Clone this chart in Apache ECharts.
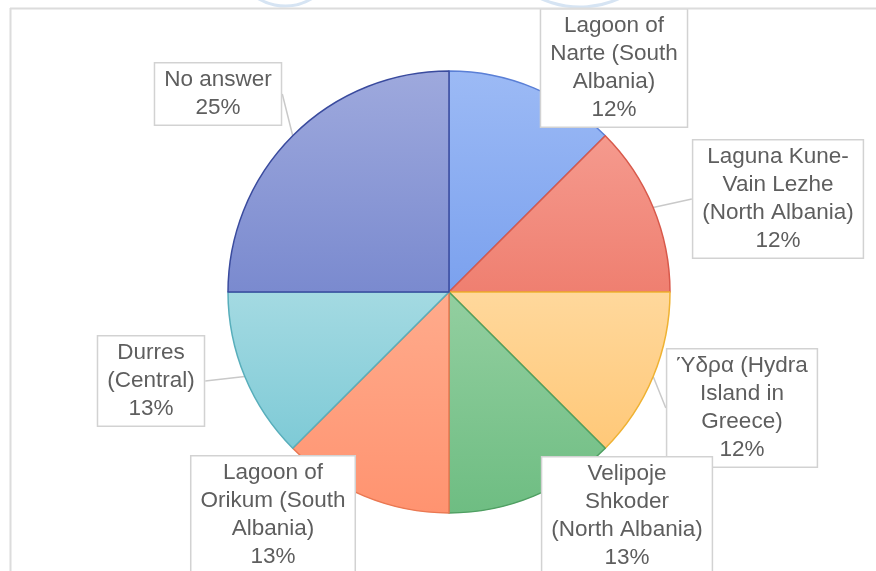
<!DOCTYPE html>
<html>
<head>
<meta charset="utf-8">
<script src="https://cdn.jsdelivr.net/npm/echarts@6/dist/echarts.min.js"></script>
<style>
html,body{margin:0;padding:0;background:#fff;}
#chart{width:876px;height:571px;}
</style>
</head>
<body>
<div id="chart"></div>
<script>
// ---- data ----
var categories = [
  'Lagoon of\nNarte (South\nAlbania)',
  'Laguna Kune-\nVain Lezhe\n(North Albania)',
  'Ύδρα (Hydra\nIsland in\nGreece)',
  'Velipoje\nShkoder\n(North Albania)',
  'Lagoon of\nOrikum (South\nAlbania)',
  'Durres\n(Central)',
  'No answer'
];
var counts = [1, 1, 1, 1, 1, 1, 2];
var percentLabels = ['12%', '12%', '12%', '13%', '13%', '13%', '25%'];

// ---- style ----
var fills = [
  ['#9cbaf5', '#7ba1ee', '#5a7fd6'],
  ['#f59a8e', '#ef7f70', '#d8594b'],
  ['#ffd89c', '#ffc878', '#efb232'],
  ['#93cfa0', '#6ebd82', '#4f9f62'],
  ['#ffab8c', '#ff9370', '#ea7852'],
  ['#a4dae2', '#7ecad6', '#58aebb'],
  ['#9ea9dd', '#7a8acf', '#3a4b9e']
];
var showLeader = [false, true, true, false, false, true, true];
// label centre positions (x, y) in px
var labelPos = [
  [614, 68], [778, 199], [742, 408], [627, 516], [273, 515], [151, 381], [218, 94]
];

var chart = echarts.init(document.getElementById('chart'), null, {renderer: 'canvas'});
var data = categories.map(function (c, i) {
  return {
    name: c,
    value: counts[i],
    labelLine: {show: showLeader[i]},
    itemStyle: {
      color: new echarts.graphic.LinearGradient(0, 0, 0, 1, [
        {offset: 0, color: fills[i][0]},
        {offset: 1, color: fills[i][1]}
      ]),
      borderColor: fills[i][2],
      borderWidth: 1.5
    }
  };
});

chart.setOption({
  backgroundColor: '#ffffff',
  animation: false,
  graphic: [
    {type: 'arc', shape: {cx: 285, cy: -46, r: 52, startAngle: 0.2, endAngle: Math.PI - 0.2}, style: {stroke: '#d6e4f3', lineWidth: 3, fill: null}, z: 0},
    {type: 'arc', shape: {cx: 580, cy: -88, r: 95, startAngle: 0.3, endAngle: Math.PI - 0.3}, style: {stroke: '#d6e4f3', lineWidth: 3, fill: null}, z: 0},
    {type: 'line', shape: {x1: 10, y1: 8.5, x2: 876, y2: 8.5}, style: {stroke: '#dcdcdc', lineWidth: 2}, z: 100},
    {type: 'line', shape: {x1: 10.5, y1: 8, x2: 10.5, y2: 571}, style: {stroke: '#dcdcdc', lineWidth: 2}, z: 100}
  ],
  series: [{
    type: 'pie',
    center: [449, 292],
    radius: 221,
    startAngle: 90,
    clockwise: true,
    data: data,
    label: {
      show: true,
      formatter: function (p) { return p.name + '\n' + percentLabels[p.dataIndex]; },
      fontFamily: 'Liberation Sans, Arial, sans-serif',
      fontSize: 22.5,
      lineHeight: 28,
      color: '#5e5e5e',
      backgroundColor: '#ffffff',
      borderColor: '#d2d2d2',
      borderWidth: 1.5,
      padding: [3, 9, 2, 9],
      align: 'center'
    },
    labelLine: {
      show: true,
      length2: 0,
      lineStyle: {color: '#c9c9c9', width: 1.5}
    },
    labelLayout: function (p) {
      var pos = labelPos[p.dataIndex];
      return {x: pos[0], y: pos[1], align: 'center', verticalAlign: 'middle'};
    },
    emphasis: {disabled: true}
  }]
});
</script>
</body>
</html>
